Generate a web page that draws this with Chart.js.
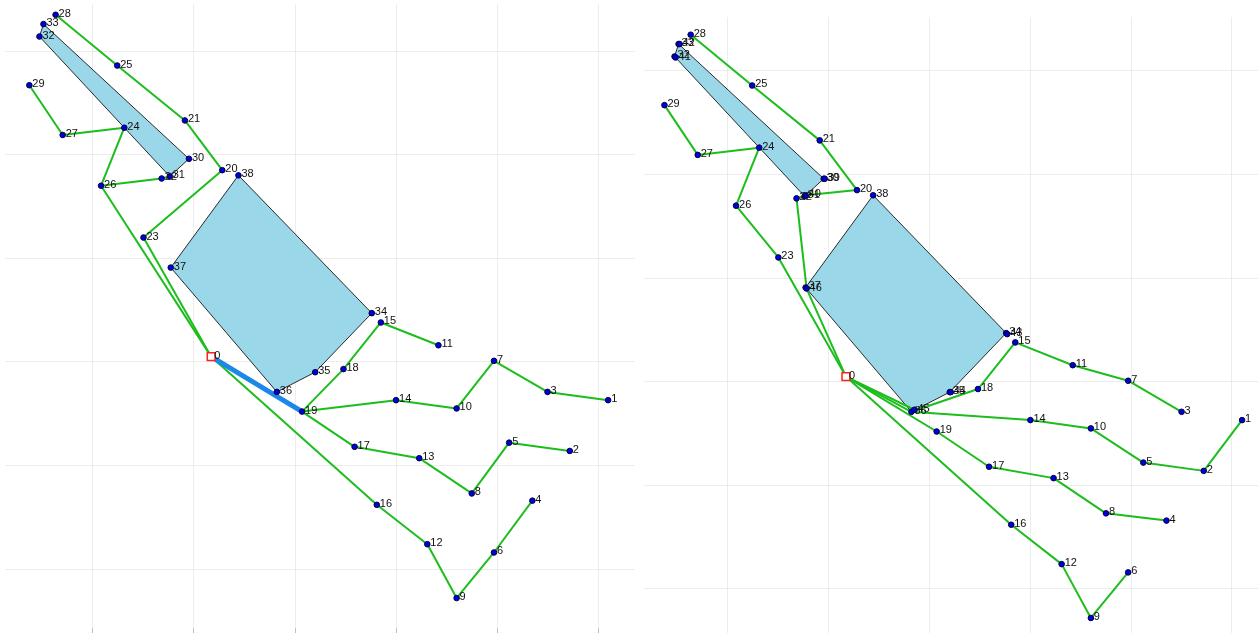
<!DOCTYPE html>
<html>
<head>
<meta charset="utf-8">
<script src="https://cdn.jsdelivr.net/npm/chart.js@4.4.1/dist/chart.umd.min.js"></script>
<style>
  html, body { margin:0; padding:0; background:#fff; overflow:hidden; }
  #left { position:absolute; left:0; top:0; }
  #right { position:absolute; left:640px; top:0; }
</style>
</head>
<body>
<canvas id="left" width="640" height="633"></canvas>
<canvas id="right" width="618" height="633"></canvas>
<script>
/* ---------- Data (same node positions in both panels) ---------- */
const nodeIds = [0,1,2,3,4,5,6,7,8,9,10,11,12,13,14,15,16,17,18,19,20,21,22,23,24,25,26,27,28,29,30,31,32,33,34,35,36,37,38];
const nodeX = [217,610,572,550,535,512,497,497,475,460,460,442,431,423,400,385,381,359,348,307,228,191,168,150,131,124,108,70,63,37,195,176,47,51,376,320,282,177,244];
const nodeY = [395,437,486,429,534,478,584,399,527,628,445,384,576,493,437,362,538,482,407,448,215,167,223,280,174,114,230,181,65,133,204,221,86,74,353,410,429,309,220];

// extra nodes of the right panel, sitting on the polygon corners
const dupIds = [39,40,41,42,43,44,45,46];
const dupX = [196,177,48,52,377,321,285,178];
const dupY = [204,220,87,74,354,410,427,310];

const polySmall = [33,32,31,30];
const polyBig = [38,34,35,36,37];

const leftEdges = [
  [28,25],[25,21],[21,20],[20,23],[23,0],
  [29,27],[27,24],[24,26],[26,22],[22,31],[26,0],
  [0,16],[16,12],[12,9],[9,6],[6,4],
  [19,18],[18,15],[15,11],
  [19,14],[14,10],[10,7],[7,3],[3,1],
  [19,17],[17,13],[13,8],[8,5],[5,2]
];
const leftHighlight = [[0,19]];

const rightEdges = [
  [28,25],[25,21],[21,20],[20,40],[40,22],[22,46],[46,0],
  [29,27],[27,24],[24,26],[26,23],[23,0],
  [0,36],[0,45],[0,19],[0,16],
  [19,17],[17,13],[13,8],[8,4],
  [36,14],[14,10],[10,5],[5,2],[2,1],
  [36,18],[18,15],[15,11],[11,7],[7,3],
  [16,12],[12,9],[9,6]
];

const tickVals = [100,200,300,400,500,600];

/* ---------- Styles ---------- */
const GREEN = '#1cbd1c';
const HIGHLIGHT = '#1d87e8';
const POLY_FILL = '#9ad7e8';
const GRID = 'rgba(0,0,0,0.07)';

function pos(id, ids, xs, ys){
  const i = ids.indexOf(id);
  return { x: xs[i], y: ys[i] };
}

function buildDatasets(ids, xs, ys, edges, highlight){
  const ds = [];
  // nodes (other than 0)
  const pts = ids.filter(id => id !== 0).map(id => pos(id, ids, xs, ys));
  ds.push({
    data: pts, order: 0, pointRadius: 2.8, pointBorderWidth: 1,
    pointBackgroundColor: '#0000d8', pointBorderColor: '#000040', showLine: false
  });
  // root node
  ds.push({
    data: [pos(0, ids, xs, ys)], order: 0, pointStyle: 'rect', pointRadius: 5.5,
    pointBackgroundColor: '#ffffff', pointBorderColor: '#ff2020', pointBorderWidth: 1.5, showLine: false
  });
  edges.forEach(e => ds.push({
    data: e.map(id => pos(id, ids, xs, ys)), showLine: true, pointRadius: 0,
    borderColor: GREEN, borderWidth: 2, order: 2
  }));
  (highlight || []).forEach(e => ds.push({
    data: e.map(id => pos(id, ids, xs, ys)), showLine: true, pointRadius: 0,
    borderColor: HIGHLIGHT, borderWidth: 5, order: 1
  }));
  [polySmall, polyBig].forEach(p => ds.push({
    data: [...p, p[0]].map(id => pos(id, ids, xs, ys)), showLine: true, pointRadius: 0,
    borderColor: '#2a2a2a', borderWidth: 1, backgroundColor: POLY_FILL, fill: 'shape', order: 3
  }));
  return ds;
}

const labelPlugin = {
  id: 'nodeLabels',
  afterDatasetsDraw(chart){
    const { ctx, scales: { x, y } } = chart;
    const L = chart.options.plugins.nodeLabels;
    ctx.save();
    ctx.font = '11px "Liberation Sans", Arial, sans-serif';
    ctx.fillStyle = '#111';
    ctx.textBaseline = 'alphabetic';
    L.ids.forEach((id, i) => {
      const px = x.getPixelForValue(L.xs[i]);
      const py = y.getPixelForValue(L.ys[i]);
      ctx.fillText(String(id), px + 3, py + 2);
    });
    ctx.restore();
  }
};

function makeChart(el, cfg){
  return new Chart(el, {
    type: 'scatter',
    data: { datasets: cfg.datasets },
    options: {
      responsive: false, animation: false, devicePixelRatio: 1,
      layout: { padding: cfg.padding, autoPadding: false },
      plugins: { legend: { display:false }, tooltip: { enabled:false }, nodeLabels: cfg.labels },
      scales: {
        x: {
          min: cfg.xMin, max: cfg.xMax,
          afterBuildTicks: s => { s.ticks = tickVals.map(v => ({ value: v })); },
          ticks: { display:false },
          border: { display:false },
          grid: { color: GRID, drawTicks: cfg.ticks, tickLength: 5, tickColor: 'rgba(0,0,0,0.25)' }
        },
        y: {
          reverse: true, min: cfg.yMin, max: cfg.yMax,
          afterBuildTicks: s => { s.ticks = tickVals.map(v => ({ value: v })); },
          ticks: { display:false },
          border: { display:false },
          grid: { color: GRID, drawTicks: false }
        }
      }
    },
    plugins: [labelPlugin]
  });
}

/* ---------- Left panel ---------- */
makeChart(document.getElementById('left'), {
  datasets: buildDatasets(nodeIds, nodeX, nodeY, leftEdges, leftHighlight),
  labels: { ids: nodeIds, xs: nodeX, ys: nodeY },
  padding: { left:5, right:5, top:4, bottom:0 },
  ticks: true,
  xMin: 12.9, xMax: 636.6, yMin: 54.6, yMax: 656.9
});

/* ---------- Right panel ---------- */
const rIds = [...nodeIds, ...dupIds];
const rX = [...nodeX, ...dupX];
const rY = [...nodeY, ...dupY];
makeChart(document.getElementById('right'), {
  datasets: buildDatasets(rIds, rX, rY, rightEdges, []),
  labels: { ids: rIds, xs: rX, ys: rY },
  padding: { left:4, right:0, top:17, bottom:0 },
  ticks: false,
  xMin: 16.7, xMax: 625.8, yMin: 47.9, yMax: 642.5
});
</script>
</body>
</html>
